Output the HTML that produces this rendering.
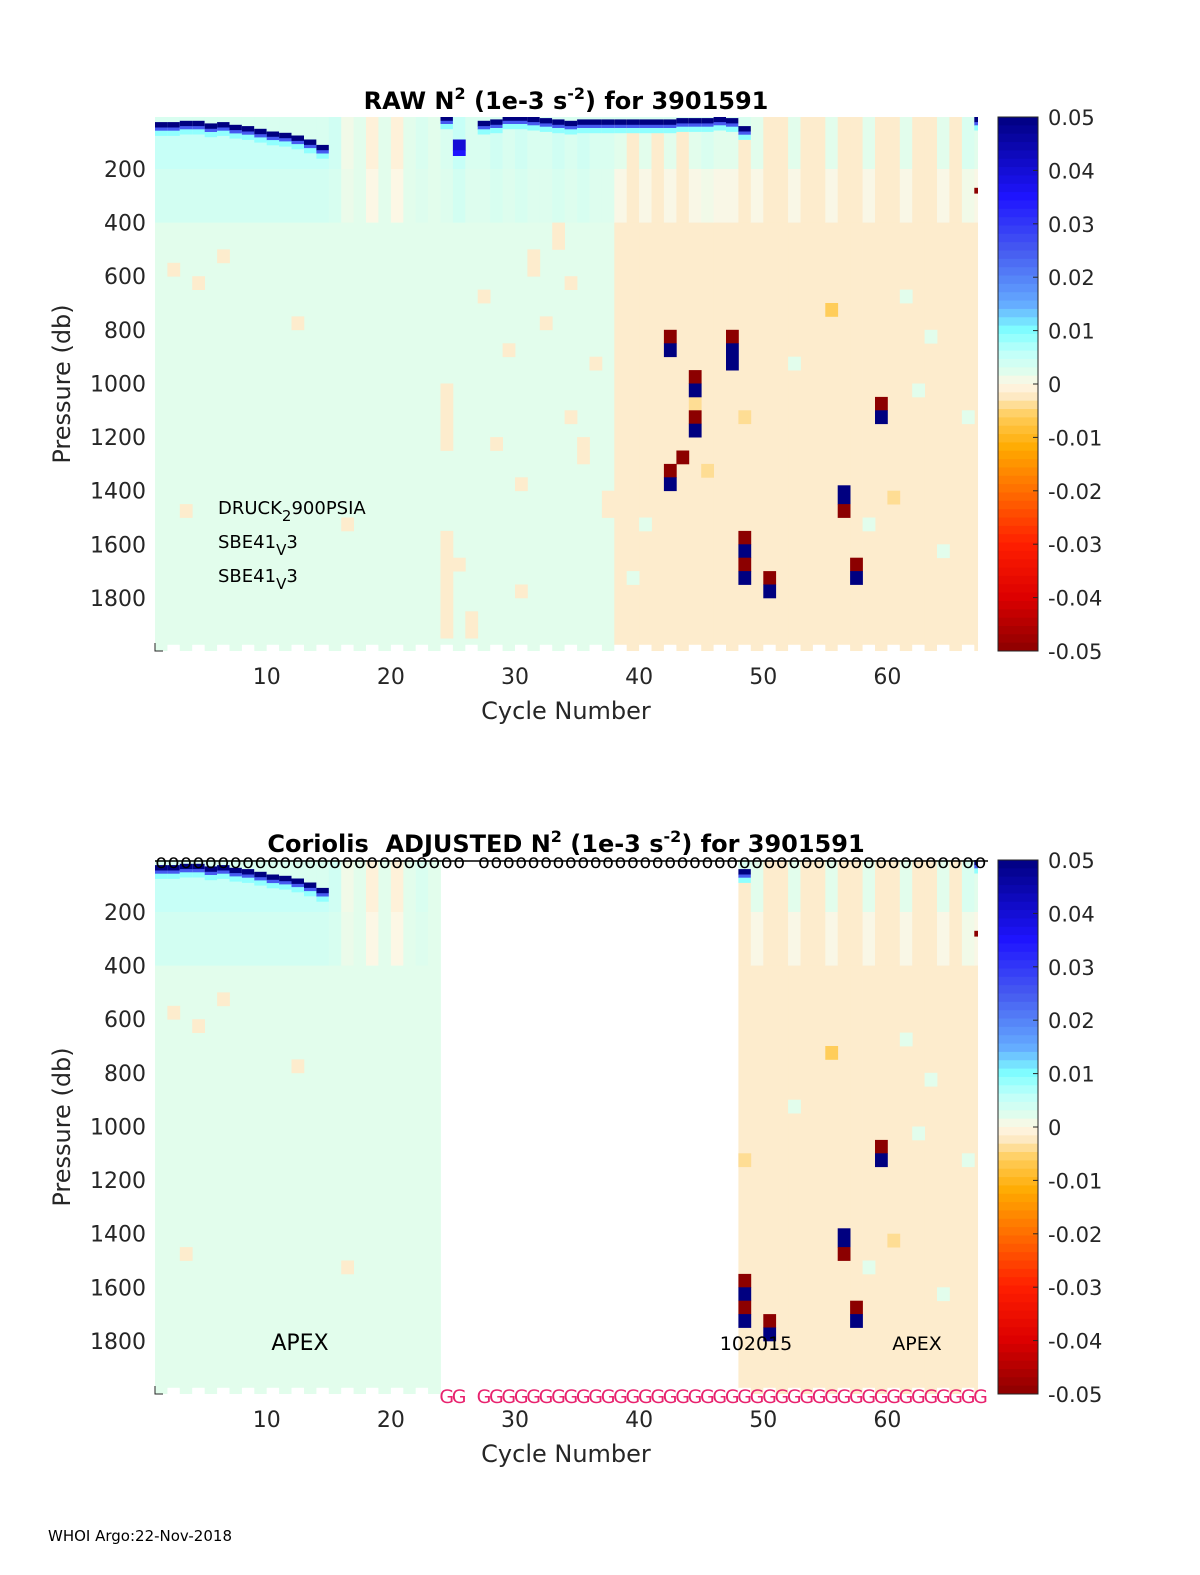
<!DOCTYPE html>
<html><head><meta charset="utf-8">
<style>
html,body{margin:0;padding:0;background:#fff;}
svg{display:block;font-family:"DejaVu Sans","Liberation Sans",sans-serif;}
</style></head>
<body>
<svg id="fig" width="1200" height="1575" viewBox="0 0 1200 1575">
<text x="48" y="1541" font-size="15" fill="#000">WHOI Argo:22-Nov-2018</text>
</svg>
<script>
// ---- data arrays ----
const cycles = Array.from({length:67},(_, i)=>i+1);
const deepValues = [0.002,0.002,0.002,0.002,0.002,0.002,0.002,0.002,0.002,0.002,0.002,0.002,0.002,0.002,0.002,0.002,0.002,0.002,0.002,0.002,0.002,0.002,0.002,0.002,0.002,0.002,0.002,0.002,0.002,0.002,0.002,0.002,0.002,0.002,0.002,0.002,0.002,-0.002,-0.002,-0.002,-0.002,-0.002,-0.002,-0.002,-0.002,-0.002,-0.002,-0.002,-0.002,-0.002,-0.002,-0.002,-0.002,-0.002,-0.002,-0.002,-0.002,-0.002,-0.002,-0.002,-0.002,-0.002,-0.002,-0.002,-0.002,-0.002,-0.002];
const upperValues = [0.005,0.005,0.005,0.005,0.005,0.005,0.005,0.005,0.005,0.005,0.005,0.005,0.005,0.005,0.004,0.001,0.002,-0.001,0.002,-0.001,0.002,0.003,0.002,0.003,0.005,0.003,0.003,0.004,0.003,0.004,0.003,0.003,0.004,0.003,0.004,0.003,0.003,0.002,-0.002,0.002,-0.002,0.002,-0.002,0.002,0.003,0.002,0.002,-0.002,0.002,-0.002,-0.002,0.002,-0.002,-0.002,0.002,-0.002,-0.002,0.002,-0.002,-0.002,0.002,-0.002,-0.002,0.002,-0.002,0.003,0.002];
// depth (db) of strong near-surface stratification band per cycle
const mixedDepth = [45,45,40,40,50,45,55,60,70,80,85,95,110,130,0,0,0,0,0,0,0,0,0,20,0,0,40,35,20,20,25,30,35,40,35,35,35,35,35,35,35,35,30,30,30,25,30,60,0,0,0,0,0,0,0,0,0,0,0,0,0,0,0,0,0,0,25];
const spikeCycle = [42,42,47,47,44,44,44,44,43,42,42,48,48,48,48,50,50,56,56,57,57,59,59,67,25,25];
const spikeTop   = [800,850,800,850,950,1000,1100,1150,1250,1300,1350,1550,1600,1650,1700,1700,1750,1380,1450,1650,1700,1050,1100,270,90,130];
const spikeBot   = [850,900,850,950,1000,1050,1150,1200,1300,1350,1400,1600,1650,1700,1750,1750,1800,1450,1500,1700,1750,1100,1150,290,130,150];
const spikeVal   = [-0.05,0.05,-0.05,0.05,-0.05,0.05,-0.05,0.05,-0.05,-0.05,0.05,-0.05,0.05,-0.05,0.05,-0.05,0.05,0.05,-0.05,-0.05,0.05,-0.05,0.05,-0.05,0.04,0.035];
const patchCycle = [2,4,6,3,16,24,24,28,29,30,32,34,34,36,25,30,26,44,48,52,55,58,61,63,40,39,45,60,62,66,64,12,31,33,35,27,37];
const patchTop   = [550,600,500,1450,1500,1000,1550,1200,850,1350,750,600,1100,900,1650,1750,1850,1050,1100,900,700,1500,650,800,1500,1700,1300,1400,1000,1100,1600,750,500,400,1200,650,1400];
const patchBot   = [600,650,550,1500,1550,1250,1950,1250,900,1400,800,650,1150,950,1700,1800,1950,1100,1150,950,750,1550,700,850,1550,1750,1350,1450,1050,1150,1650,800,600,500,1300,700,1500];
const patchVal   = [-0.002,-0.002,-0.002,-0.002,-0.002,-0.002,-0.002,-0.002,-0.002,-0.002,-0.002,-0.002,-0.002,-0.002,-0.002,-0.002,-0.002,-0.004,-0.004,0.002,-0.006,0.002,0.002,0.002,0.002,0.002,-0.004,-0.004,0.002,0.002,0.002,-0.002,-0.002,-0.002,-0.002,-0.002,-0.002];
const missingAdjusted = [24,25,26,27,28,29,30,31,32,33,34,35,36,37,38,39,40,41,42,43,44,45,46,47];
const yTicks = [200,400,600,800,1000,1200,1400,1600,1800];
const xTicks = [10,20,30,40,50,60];
const cbTicks = [0.05,0.04,0.03,0.02,0.01,0,-0.01,-0.02,-0.03,-0.04,-0.05];
const cbLabels = ['0.05','0.04','0.03','0.02','0.01','0','-0.01','-0.02','-0.03','-0.04','-0.05'];

const NS='http://www.w3.org/2000/svg';
const svg=document.getElementById('fig');
function mk(tag,attrs,parent){const e=document.createElementNS(NS,tag);for(const k in attrs)e.setAttribute(k,attrs[k]);(parent||svg).appendChild(e);return e;}

const stops=[[-0.05,[140,0,0]],[-0.04,[220,0,0]],[-0.03,[255,30,0]],[-0.02,[255,110,0]],[-0.012,[255,170,0]],[-0.006,[255,205,90]],[-0.002,[253,236,205]],[0,[255,246,228]],[0.002,[226,253,236]],[0.006,[190,255,250]],[0.01,[128,255,255]],[0.015,[100,170,255]],[0.025,[70,90,240]],[0.035,[30,20,255]],[0.05,[0,0,128]]];
function color(v){v=Math.max(-0.05,Math.min(0.05,v));for(let i=0;i<stops.length-1;i++){const a=stops[i],b=stops[i+1];if(v<=b[0]){const t=(v-a[0])/(b[0]-a[0]);const c=a[1].map((x,j)=>Math.round(x+(b[1][j]-x)*t));return `rgb(${c[0]},${c[1]},${c[2]})`;}}return 'rgb(0,0,128)';}

const X0=155,X1=978;
const xmin=1,xmax=67.3;
function xs(c){return X0+(c-xmin)/(xmax-xmin)*(X1-X0);}

function drawPlot(top,title,adjusted){
  const T=top,B=top+534;
  const pmin=6,pmax=1998;
  const ys=p=>T+(p-pmin)/(pmax-pmin)*(B-T);
  const g=mk('g',{});
  
  
  const clip=mk('clipPath',{id:'clip'+top},g);
  mk('rect',{x:X0,y:T,width:X1-X0,height:B-T},clip);
  const cells=mk('g',{'clip-path':`url(#clip${top})`},g);
  
  
  function cell(c,p0,p1,v,fill){
    const x0=xs(c),x1=xs(c+1);const y0=ys(Math.max(p0,pmin)),y1=ys(p1);
    const r=mk('rect',{x:x0.toFixed(1),y:y0.toFixed(1),width:(x1-x0+0.4).toFixed(1),height:(y1-y0+0.4).toFixed(1),fill:fill||color(v)},cells);
    
    
  }
  cycles.forEach((c,i)=>{
    if(adjusted&&missingAdjusted.includes(c))return;
    const md=mixedDepth[i];
    cell(c,0,200,upperValues[i]);
    cell(c,200,400,(upperValues[i]*0.6+deepValues[i]*0.4));
    cell(c,400,1975,deepValues[i]);
    if(md>0){cell(c,0,md-20,0.003);cell(c,md-20,md,0.05);cell(c,md,md+12,0.025);cell(c,md+12,md+30,0.009);}
    cell(c,1975,2000,0,(c%2==0)?'#ffffff':color(deepValues[i]));
  });
  patchCycle.forEach((c,i)=>{
    if(adjusted&&missingAdjusted.includes(c))return;
    cell(c,patchTop[i],patchBot[i],patchVal[i]);
  });
  spikeCycle.forEach((c,i)=>{
    if(adjusted&&missingAdjusted.includes(c))return;
    cell(c,spikeTop[i],spikeBot[i],spikeVal[i]);
  });
  const ax=mk('path',{d:`M${X0},${B-8}V${B}H${X0+8}`,stroke:'#262626',fill:'none','stroke-width':1},g);
  
  
  yTicks.forEach(p=>{
    const t=mk('text',{x:146,y:ys(p)+8,'text-anchor':'end','font-size':22,fill:'#262626'},g);
    t.textContent=p;
    
    
  });
  xTicks.forEach(c=>{
    const t=mk('text',{x:xs(c),y:B+33,'text-anchor':'middle','font-size':22,fill:'#262626'},g);
    t.textContent=c;
    
    
  });
  const yl=mk('text',{x:0,y:0,transform:`translate(70,${(T+B)/2}) rotate(-90)`,'text-anchor':'middle','font-size':24,fill:'#262626'},g);
  yl.textContent='Pressure (db)';
  
  
  const xl=mk('text',{x:566,y:B+68,'text-anchor':'middle','font-size':24,fill:'#262626'},g);
  xl.textContent='Cycle Number';
  
  
  const tt=mk('text',{x:566,y:T-8,'text-anchor':'middle','font-size':24,'font-weight':'bold',fill:'#000'},g);
  tt.innerHTML=title;
  
  
  const cb=mk('g',{},g);
  
  
  const CX=998,CW=40;
  for(let k=0;k<64;k++){
    const v=0.05-(k+0.5)*0.1/64;
    const r=mk('rect',{x:CX,y:(T+k*(B-T)/64).toFixed(2),width:CW,height:((B-T)/64+0.5).toFixed(2),fill:color(v)},cb);
    
    
  }
  mk('rect',{x:CX,y:T,width:CW,height:B-T,fill:'none',stroke:'#262626','stroke-width':1},cb);
  cbTicks.forEach((v,i)=>{
    const y=T+(0.05-v)/0.1*(B-T);
    mk('line',{x1:CX+CW-5,x2:CX+CW,y1:y,y2:y,stroke:'#262626'},cb);
    const t=mk('text',{x:1048,y:y+8,'font-size':21,fill:'#262626'},cb);
    t.textContent=cbLabels[i];
    
    
  });
  return {T,B,ys,g};
}

const p1=drawPlot(117,'RAW N<tspan font-size="16" dy="-10">2</tspan><tspan dy="10"> (1e-3 s</tspan><tspan font-size="16" dy="-10">-2</tspan><tspan dy="10">) for 3901591</tspan>',false);
[['DRUCK','2','900PSIA',507],['SBE41','V','3',541],['SBE41','V','3',575]].forEach(a=>{
  const t=mk('text',{x:218,y:a[3]+7,'font-size':18,fill:'#000'},p1.g);
  t.innerHTML=`${a[0]}<tspan dy="7" font-size="15">${a[1]}</tspan><tspan dy="-7">${a[2]}</tspan>`;
  
  
});

const p2=drawPlot(860,'Coriolis&#160; ADJUSTED N<tspan font-size="16" dy="-10">2</tspan><tspan dy="10"> (1e-3 s</tspan><tspan font-size="16" dy="-10">-2</tspan><tspan dy="10">) for 3901591</tspan>',true);
mk('line',{x1:X0,x2:X1+10,y1:p2.T+1,y2:p2.T+1,stroke:'#000','stroke-width':1.5},p2.g);
cycles.forEach(c=>{
  if(c===26)return;
  const o=mk('text',{x:xs(c+0.5),y:p2.T+8,'text-anchor':'middle','font-size':19,fill:'#000'},p2.g);
  o.textContent='o';
  
  
  if(c>=24){
    const G=mk('text',{x:xs(c+0.5),y:p2.B+9,'text-anchor':'middle','font-size':19,fill:'#e8226e'},p2.g);
    G.textContent='G';
    
    
  }
});
[['APEX',300,22],['102015',756,19],['APEX',917,19]].forEach(a=>{
  const t=mk('text',{x:a[1],y:1350,'text-anchor':'middle','font-size':a[2],fill:'#000'},p2.g);
  t.textContent=a[0];
  
  
});
</script>
</body></html>
